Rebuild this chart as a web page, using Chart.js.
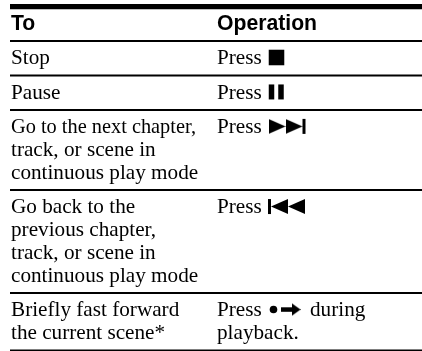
<!DOCTYPE html>
<html>
<head>
<meta charset="utf-8">
<style>
  html, body { margin: 0; padding: 0; background: #fff; }
  canvas { display: block; }
</style>
</head>
<body>
<canvas id="chart" width="422" height="351"></canvas>
<script src="https://cdn.jsdelivr.net/npm/chart.js@4/dist/chart.umd.min.js"></script>
<script>
const HEADERS = ['To', 'Operation'];
const TO_ROWS = [
  ['Stop'],
  ['Pause'],
  ['Go to the next chapter,', 'track, or scene in', 'continuous play mode'],
  ['Go back to the', 'previous chapter,', 'track, or scene in', 'continuous play mode'],
  ['Briefly fast forward', 'the current scene*']
];
const OP_ROWS = [
  ['Press'],
  ['Press'],
  ['Press'],
  ['Press'],
  ['Press', 'playback.']
];
const OP_TAIL = ['', '', '', '', 'during'];

// table layout, in picture units (the axes run 0-422 and 0-351)
const LEFT = 10, RIGHT = 422, COL_2 = 217, TAIL_X = 310;
const TOP_RULE = 6.7, HEAD_RULE = 41;
const LINE_H = 22.85, ROW_PAD = 11.6, BASELINE = 23.3;
const BODY_FONT = '21.2px "Liberation Serif"';
const HEAD_FONT = 'bold 21.2px "Liberation Sans"';
const TIGHT_LINE = 185; // the first "next chapter" line is set narrower in the original

// where each row starts
const rowTops = [];
let y = HEAD_RULE;
TO_ROWS.forEach(r => { rowTops.push(y); y += r.length * LINE_H + ROW_PAD; });
const rowRules = rowTops.slice(1).concat(y);

function ruleSet(yVal, width) {
  return {
    type: 'line',
    data: [{ x: LEFT, y: yVal }, { x: RIGHT, y: yVal }],
    borderColor: '#000',
    borderWidth: width,
    pointRadius: 0
  };
}

// triangle that points right, used as a point style
function triangle(w, h) {
  const c = document.createElement('canvas');
  c.width = w; c.height = h;
  const ctx = c.getContext('2d');
  ctx.fillStyle = '#000';
  ctx.beginPath();
  ctx.moveTo(0, 0); ctx.lineTo(w, h / 2); ctx.lineTo(0, h);
  ctx.closePath();
  ctx.fill();
  return c;
}

function iconSet(points, style, opts = {}) {
  return Object.assign({
    type: 'scatter',
    data: points,
    pointStyle: style,
    pointBackgroundColor: '#000',
    pointBorderColor: '#000',
    pointBorderWidth: 0,
    pointRadius: 8
  }, opts);
}

const iconY = i => rowTops[i] + 16.5;
const longTri = triangle(17, 15);
const headTri = triangle(9, 13);

const iconSets = [
  // stop
  iconSet([{ x: 276.5, y: iconY(0) }], 'rect', { pointRadius: 11 }),
  // pause
  iconSet([{ x: 271.5, y: iconY(1) }, { x: 281, y: iconY(1) }], 'line',
    { pointRadius: 7.5, pointRotation: 90, pointBorderWidth: 5.5 }),
  // next
  iconSet([{ x: 277, y: iconY(2) }, { x: 294, y: iconY(2) }], longTri),
  iconSet([{ x: 304, y: iconY(2) }], 'line', { pointRadius: 7.5, pointRotation: 90, pointBorderWidth: 3 }),
  // previous
  iconSet([{ x: 279.5, y: iconY(3) }, { x: 296.5, y: iconY(3) }], longTri, { pointRotation: 180 }),
  iconSet([{ x: 269.5, y: iconY(3) }], 'line', { pointRadius: 7.5, pointRotation: 90, pointBorderWidth: 3 }),
  // fast forward: dot and arrow
  iconSet([{ x: 273.5, y: iconY(4) }], 'circle', { pointRadius: 3.8 }),
  iconSet([{ x: 287, y: iconY(4) }], 'line', { pointRadius: 6, pointBorderWidth: 4.5 }),
  iconSet([{ x: 296, y: iconY(4) }], headTri)
];

const tableText = {
  id: 'tableText',
  afterDatasetsDraw(chart) {
    const { ctx, scales } = chart;
    const put = (text, xVal, yVal, maxW) => ctx.fillText(text, scales.x.getPixelForValue(xVal), scales.y.getPixelForValue(yVal), maxW);
    ctx.save();
    ctx.fillStyle = '#000';
    ctx.textBaseline = 'alphabetic';
    ctx.font = HEAD_FONT;
    put(HEADERS[0], LEFT + 1, TOP_RULE + 23);
    put(HEADERS[1], COL_2, TOP_RULE + 23);
    ctx.font = BODY_FONT;
    TO_ROWS.forEach((lines, i) => {
      lines.forEach((t, j) => put(t, LEFT + 1, rowTops[i] + BASELINE + j * LINE_H, i === 2 && j === 0 ? TIGHT_LINE : undefined));
      OP_ROWS[i].forEach((t, j) => put(t, COL_2, rowTops[i] + BASELINE + j * LINE_H));
      if (OP_TAIL[i]) put(OP_TAIL[i], TAIL_X, rowTops[i] + BASELINE);
    });
    ctx.restore();
  }
};

new Chart(document.getElementById('chart'), {
  type: 'scatter',
  data: {
    datasets: [
      ruleSet(TOP_RULE, 5.3),
      ruleSet(HEAD_RULE, 2)
    ].concat(rowRules.map((r, i) => ruleSet(r, i === rowRules.length - 1 ? 1.5 : 2)), iconSets)
  },
  options: {
    responsive: false,
    animation: false,
    events: [],
    layout: { padding: 0, autoPadding: false },
    plugins: { legend: { display: false }, tooltip: { enabled: false } },
    scales: {
      x: { type: 'linear', min: 0, max: 422, display: false },
      y: { type: 'linear', min: 0, max: 351, reverse: true, display: false }
    }
  },
  plugins: [tableText]
});
</script>
</body>
</html>
